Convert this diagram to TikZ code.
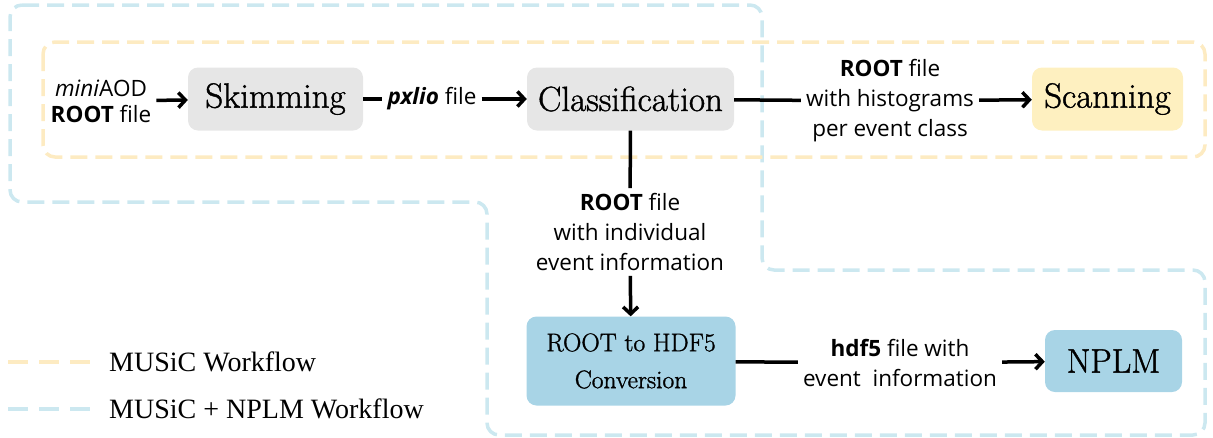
\documentclass[tikz,border=0pt]{standalone}
\usepackage{fontspec}
\setsansfont{Open Sans}
\newfontfamily\legendfont{Liberation Serif}
\newfontfamily\boxfont{Latin Modern Roman}[FakeBold=1.2]
\usetikzlibrary{arrows.meta}
\definecolor{dashblue}{HTML}{CCE8F0}
\definecolor{dashyellow}{HTML}{FDEBC2}
\definecolor{boxgray}{HTML}{E6E6E6}
\definecolor{boxblue}{HTML}{A8D4E6}
\definecolor{boxyellow}{HTML}{FEF0C0}
\tikzset{
  procbox/.style={rounded corners=10pt, draw=none, inner sep=0pt, align=center, font=\boxfont\fontsize{35}{38}\selectfont},
  lbl/.style={font=\sffamily\fontsize{22.5}{30}\selectfont, align=center, inner sep=5pt},
  conn/.style={line width=3.5pt, black},
  arr/.style={conn, -{Straight Barb[length=7pt,width=15pt]}},
  blueframe/.style={draw=dashblue, line width=3.5pt, dash pattern=on 17pt off 8pt, rounded corners=12pt},
  yellowframe/.style={draw=dashyellow, line width=3.5pt, dash pattern=on 17pt off 8pt, rounded corners=12pt},
}
\begin{document}
\begin{tikzpicture}[x=1pt,y=-1pt]
\useasboundingbox (0,0) rectangle (1213,437);
% frames
\draw[blueframe] (10,5) -- (762,5) -- (762,270) -- (1205,270) -- (1205,435) -- (487,435) -- (487,202) -- (10,202) -- cycle;
\draw[yellowframe] (43,42) rectangle (1205,157);
% boxes
\node[procbox, fill=boxgray, minimum width=175pt, minimum height=63pt] (skim) at (275.5,99) {Skimming};
\node[procbox, fill=boxgray, minimum width=207pt, minimum height=63pt] (class) at (630.5,99) {Classification};
\node[procbox, fill=boxyellow, minimum width=151pt, minimum height=63pt] (scan) at (1107.5,99) {Scanning};
\node[procbox, fill=boxblue, minimum width=209pt, minimum height=89pt, font=\boxfont\fontsize{25.5}{37}\selectfont] (r2h) at (631,361) {ROOT to HDF5\\Conversion};
\node[procbox, fill=boxblue, minimum width=137pt, minimum height=62pt, font=\boxfont\fontsize{34}{36}\selectfont] (nplm) at (1113.5,361) {NPLM};
% labels
\node[lbl, font=\sffamily\fontsize{22.5}{26}\selectfont] (mini) at (101,101) {\textit{mini}AOD\\\textbf{ROOT} file};
\node[lbl] (pxl) at (432,99) {\textbf{\textit{pxlio}} file};
\node[lbl] (hist) at (890,101) {\textbf{ROOT} file\\with histograms\\per event class};
\node[lbl] (indiv) at (630,232) {\textbf{ROOT} file\\with individual\\event information};
\node[lbl] (hdf) at (900,363) {\textbf{hdf5} file with\\event\ \ information};
% connectors
\draw[arr] (mini) -- (skim);
\draw[conn] (skim) -- (pxl);
\draw[arr] (pxl) -- (class);
\draw[conn] (class) -- (hist);
\draw[arr] (hist) -- (scan);
\draw[conn] (class) -- (indiv);
\draw[arr] (indiv) -- (r2h);
\draw[conn] (r2h) -- (hdf);
\draw[arr] (hdf) -- (nplm);
% legend
\coordinate (ly1) at (8,362);
\coordinate (ly2) at (91,362);
\coordinate (lb1) at (8,409);
\coordinate (lb2) at (91,409);
\draw[draw=dashyellow, line width=3.5pt, dash pattern=on 20pt off 11pt] (ly1) -- (ly2);
\draw[draw=dashblue, line width=3.5pt, dash pattern=on 20pt off 11pt] (lb1) -- (lb2);
\node[anchor=west, inner sep=0pt, font=\legendfont\fontsize{28}{30}\selectfont] (leg1) at (109,362) {MUSiC Workflow};
\node[anchor=west, inner sep=0pt, font=\legendfont\fontsize{28}{30}\selectfont] (leg2) at (109,409) {MUSiC + NPLM Workflow};
\end{tikzpicture}
\end{document}
